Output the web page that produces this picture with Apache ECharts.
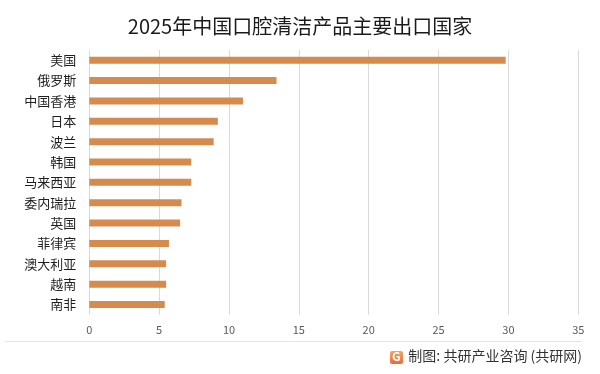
<!DOCTYPE html>
<html>
<head>
<meta charset="utf-8">
<script src="https://cdn.jsdelivr.net/npm/echarts@6/dist/echarts.min.js"></script>
<style>html,body{margin:0;padding:0;background:#fff}#c{width:600px;height:374px}</style>
</head>
<body>
<div id="c"></div>
<script>
const categories = ['美国','俄罗斯','中国香港','日本','波兰','韩国','马来西亚','委内瑞拉','英国','菲律宾','澳大利亚','越南','南非'];
const values = [29.8, 13.4, 11.0, 9.2, 8.9, 7.3, 7.3, 6.6, 6.5, 5.7, 5.5, 5.5, 5.4];
const xTicks = [0, 5, 10, 15, 20, 25, 30, 35];
const titleText = '2025年中国口腔清洁产品主要出口国家';
const sourceText = '制图: 共研产业咨询 (共研网)';

const FONT = '"Noto Sans CJK SC", "Noto Sans", sans-serif';
const chart = echarts.init(document.getElementById('c'), null, {renderer: 'canvas'});
chart.setOption({
  animation: false,
  backgroundColor: '#ffffff',
  title: {
    text: titleText, left: 'center', top: 11,
    textStyle: {fontFamily: FONT, fontSize: 20, fontWeight: 'normal', color: '#1a1a1a'}
  },
  grid: {left: 89.3, right: 21.7, top: 50, bottom: 59.3, containLabel: false},
  xAxis: {
    type: 'value', min: xTicks[0], max: xTicks[xTicks.length - 1], interval: 5,
    axisLine: {show: false}, axisTick: {show: false},
    axisLabel: {fontFamily: FONT, fontSize: 11, color: '#595959', margin: 10},
    splitLine: {show: true, lineStyle: {color: '#d9d9d9', width: 1}}
  },
  yAxis: {
    type: 'category', data: categories, inverse: true,
    axisLine: {show: false}, axisTick: {show: false},
    axisLabel: {fontFamily: FONT, fontSize: 13, color: '#1f1f1f', margin: 13}
  },
  series: [{
    type: 'bar', data: values, barWidth: 7,
    itemStyle: {color: '#D58B4E'}
  }],
  graphic: [
    {type: 'line', shape: {x1: 5, y1: 341.5, x2: 582, y2: 341.5}, style: {stroke: '#e3e3e3', lineWidth: 1}},
    {type: 'rect', shape: {x: 390, y: 351, width: 13, height: 13, r: 2},
     style: {fill: new echarts.graphic.LinearGradient(0, 0, 0, 1, [{offset: 0, color: '#F6A55E'}, {offset: 1, color: '#EC6A3C'}])}},
    {type: 'text', left: 392, top: 350.5, style: {text: 'G', fontSize: 12, fontWeight: 'bold', fill: '#fff', fontFamily: FONT}},
    {type: 'text', right: 18, top: 349, style: {text: sourceText, fontSize: 14, fill: '#333', fontFamily: FONT}}
  ]
});
</script>
</body>
</html>
